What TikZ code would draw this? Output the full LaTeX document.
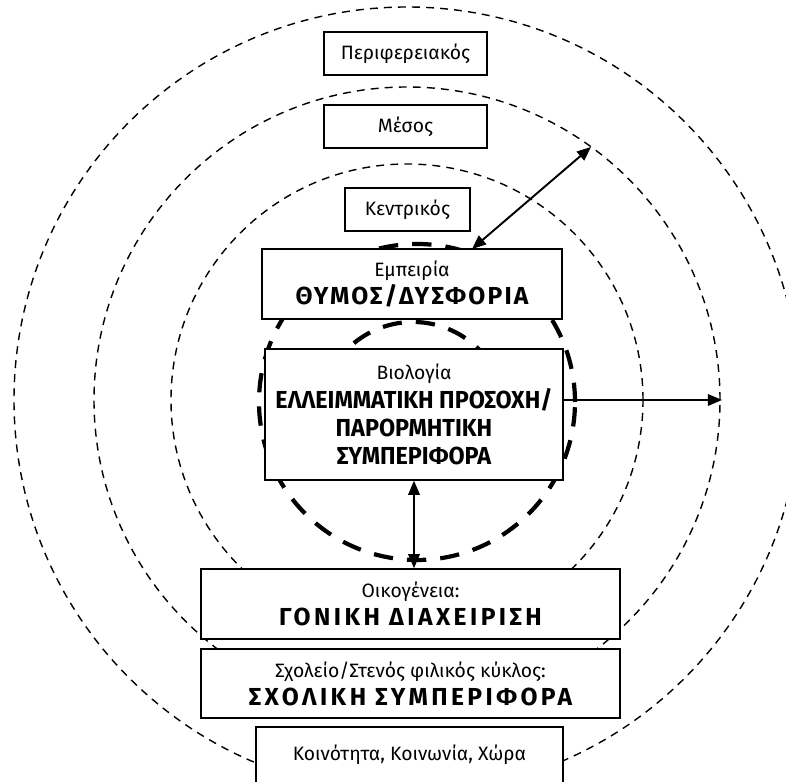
\documentclass[tikz,border=0pt]{standalone}
\usepackage{fontspec}
\setmainfont{Fira Sans}
\newfontfamily\condfont[FakeStretch=0.95]{Fira Sans}
\newfontfamily\widefont[LetterSpace=9]{Fira Sans}
\newfontfamily\widerfont[LetterSpace=14]{Fira Sans}
\usetikzlibrary{arrows.meta}
\newdimen\pxu \pxu=0.2mm
\newcommand\condbf[1]{{\condfont\bfseries\fontsize{14}{16.5}\selectfont #1}}
\newcommand\widebf[1]{{\widefont\bfseries\fontsize{14}{16}\selectfont #1}}
\newcommand\widerbf[1]{{\widerfont\bfseries\fontsize{14}{16}\selectfont #1}}
\tikzset{
  box/.style={draw, line width=0.8pt, fill=white, inner sep=0pt, align=center,
    font=\fontsize{11}{16}\selectfont},
  thindash/.style={line width=0.8pt, dash pattern=on 4.5pt off 3.5pt},
  thickdash/.style={line width=2.4pt, dash pattern=on 11pt off 8pt},
  link/.style={line width=1.1pt},
}
\begin{document}
\begin{tikzpicture}[x=0.2mm, y=0.2mm, >={Triangle[length=8pt,width=6.5pt]}]
		\useasboundingbox (0,0) rectangle (786,782);
		\clip (0,0) rectangle (786,782);
		%Cercles des niveaux
		\draw[thindash] (407,382) circle[radius=236];
		\draw[thindash] (407,382) circle[radius=313];
		\draw[thindash] (407,382) circle[radius=393];
		\draw[thickdash] (417,380) circle[radius=158];
		\draw[thickdash] (413,367) ++(150:93) arc[start angle=150, end angle=30, radius=93];
		
		%Boites des niveaux
		\node[box, minimum width=163\pxu, minimum height=43\pxu] (peri) at (405.5,728.5) {Περιφερειακός};
		\node[box, minimum width=163\pxu, minimum height=43\pxu] (meso) at (405.5,655.5) {Μέσος};
		\node[box, minimum width=125\pxu, minimum height=43\pxu] (kent) at (407.5,572.5) {Κεντρικός};
		
		%Boites du contenu
		\node[box, minimum width=300\pxu, minimum height=70\pxu] (emp) at (412,498) {Εμπειρία\\\widebf{ΘΥΜΟΣ/ΔΥΣΦΟΡΙΑ}};
		\node[box, minimum width=298\pxu, minimum height=131\pxu] (bio) at (414,367.5) {Βιολογία\\\condbf{ΕΛΛΕΙΜΜΑΤΙΚΗ ΠΡΟΣΟΧΗ/}\\\condbf{ΠΑΡΟΡΜΗΤΙΚΗ}\\\condbf{ΣΥΜΠΕΡΙΦΟΡΑ}};
		\node[box, minimum width=419\pxu, minimum height=70\pxu] (fam) at (410.5,178) {Οικογένεια:\\\widerbf{ΓΟΝΙΚΗ ΔΙΑΧΕΙΡΙΣΗ}};
		\node[box, minimum width=419\pxu, minimum height=69\pxu] (sch) at (410.5,98.5) {Σχολείο/Στενός φιλικός κύκλος:\\\widerbf{ΣΧΟΛΙΚΗ ΣΥΜΠΕΡΙΦΟΡΑ}};
		\node[box, minimum width=307\pxu, minimum height=56\pxu] (koin) at (409.5,27) {Κοινότητα, Κοινωνία, Χώρα};
		
		%Fleches
		\coordinate (empA) at (472,533);
		\coordinate (mesoR) at (591,635);
		\coordinate (midR) at (722,382);
		\draw[link, <->] (empA) -- (mesoR);
		\draw[link, ->] (bio.east |- midR) -- (midR);
		\draw[link, <->] (bio.south) -- (bio.south |- fam.north);
\end{tikzpicture}
\end{document}
